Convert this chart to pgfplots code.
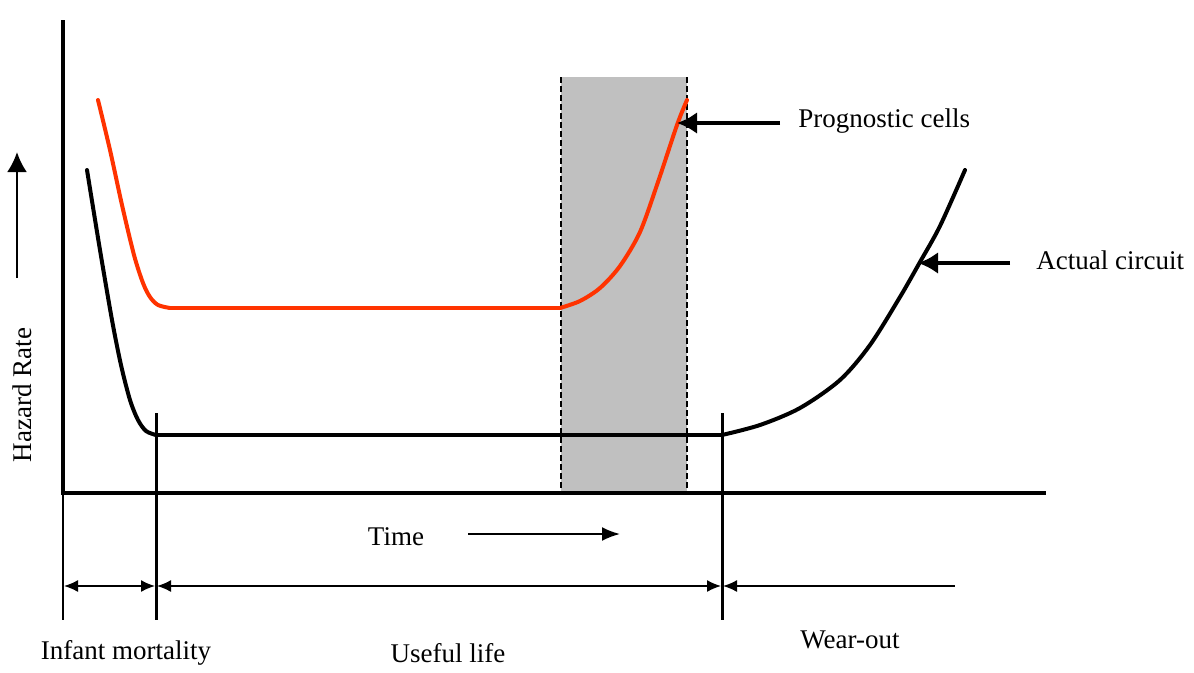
\documentclass[border=0pt]{standalone}
\usepackage{pgfplots}
\pgfplotsset{compat=1.18}
\usepackage{fontspec}
\setmainfont{Liberation Serif}
\usetikzlibrary{arrows.meta}
\definecolor{redc}{HTML}{FF3300}
\definecolor{shade}{HTML}{C0C0C0}
\begin{document}
\begin{tikzpicture}
\begin{axis}[
  scale only axis, width=597pt, height=334.5pt,
  xmin=0, xmax=1194, ymin=0, ymax=669, y dir=reverse,
  hide axis, clip=false,
]
\path (axis cs:0,0) rectangle (axis cs:1194,669);
% shaded region
\addplot[fill=shade, draw=none] coordinates {(561,77) (687,77) (687,493) (561,493)} -- cycle;
\addplot[black, line width=0.8pt, dash pattern=on 3pt off 1.5pt] coordinates {(561,77) (561,493)};
\addplot[black, line width=0.8pt, dash pattern=on 3pt off 1.5pt] coordinates {(687,77) (687,493)};
% red curve
\addplot[redc, line width=2pt, smooth, tension=0.5, line cap=round] coordinates {
 (98,100) (110,150) (122,205) (134,255) (143,283) (150,297) (158,305) (170,308)};
\addplot[redc, line width=2pt, line cap=round] coordinates {(170,308) (560,308)};
\addplot[redc, line width=2pt, smooth, tension=0.5, line cap=round] coordinates {
 (560,308) (580,301) (600,288) (620,266) (640,232) (658,182) (677,125) (687,100)};
% black curve
\addplot[black, line width=2pt, smooth, tension=0.5, line cap=round] coordinates {
 (87,170) (100,250) (112,320) (121,365) (130,400) (138,420) (146,431) (156,435)};
\addplot[black, line width=2pt, line cap=round] coordinates {(156,435) (722,435)};
\addplot[black, line width=2pt, smooth, tension=0.5, line cap=round] coordinates {
 (722,435) (760,425) (800,408) (840,380) (870,345) (900,297) (920,262) (940,226) (965,170)};
% axes
\addplot[black, line width=2pt] coordinates {(63,20) (63,493) (1046,493)};
% vertical markers
\addplot[black, line width=0.8pt] coordinates {(63,493) (63,620)};
\addplot[black, line width=1.5pt] coordinates {(156,413) (156,620)};
\addplot[black, line width=1.5pt] coordinates {(722,413) (722,620)};
% period arrows
\draw[line width=0.8pt, {Latex[length=7pt,width=6pt]}-{Latex[length=7pt,width=6pt]}] (axis cs:64,586) -- (axis cs:155,586);
\draw[line width=0.8pt, {Latex[length=7pt,width=6pt]}-{Latex[length=7pt,width=6pt]}] (axis cs:157,586) -- (axis cs:721,586);
\draw[line width=0.8pt, {Latex[length=7pt,width=6pt]}-] (axis cs:723,586) -- (axis cs:955,586);
% hazard arrow
\draw[line width=1.3pt, -{Latex[length=10pt,width=10pt]}] (axis cs:17,278) -- (axis cs:17,152);
\node[rotate=90, font=\fontsize{13.5}{16}\selectfont] at (axis cs:22,395) {Hazard Rate};
% time
\node[font=\fontsize{13.5}{16}\selectfont] at (axis cs:396,537) {Time};
\draw[line width=1pt, -{Latex[length=9pt,width=7pt]}] (axis cs:468,534) -- (axis cs:620,534);
% labels
\node[font=\fontsize{13.5}{16}\selectfont] at (axis cs:126,653) {Infant mortality};
\node[font=\fontsize{13.5}{16}\selectfont] at (axis cs:448,653) {Useful life};
\node[font=\fontsize{13.5}{16}\selectfont] at (axis cs:850,640) {Wear-out};
% annotations
\draw[line width=2pt, -{Latex[length=10pt,width=11pt]}] (axis cs:780,123) -- (axis cs:677,123);
\node[anchor=west, inner sep=0pt, font=\fontsize{13.5}{16}\selectfont] at (axis cs:798,121) {Prognostic cells};
\draw[line width=2pt, -{Latex[length=10pt,width=11pt]}] (axis cs:1010,263) -- (axis cs:918,263);
\node[anchor=west, inner sep=0pt, font=\fontsize{13.5}{16}\selectfont] at (axis cs:1036,260) {Actual circuit};
\end{axis}
\end{tikzpicture}
\end{document}
